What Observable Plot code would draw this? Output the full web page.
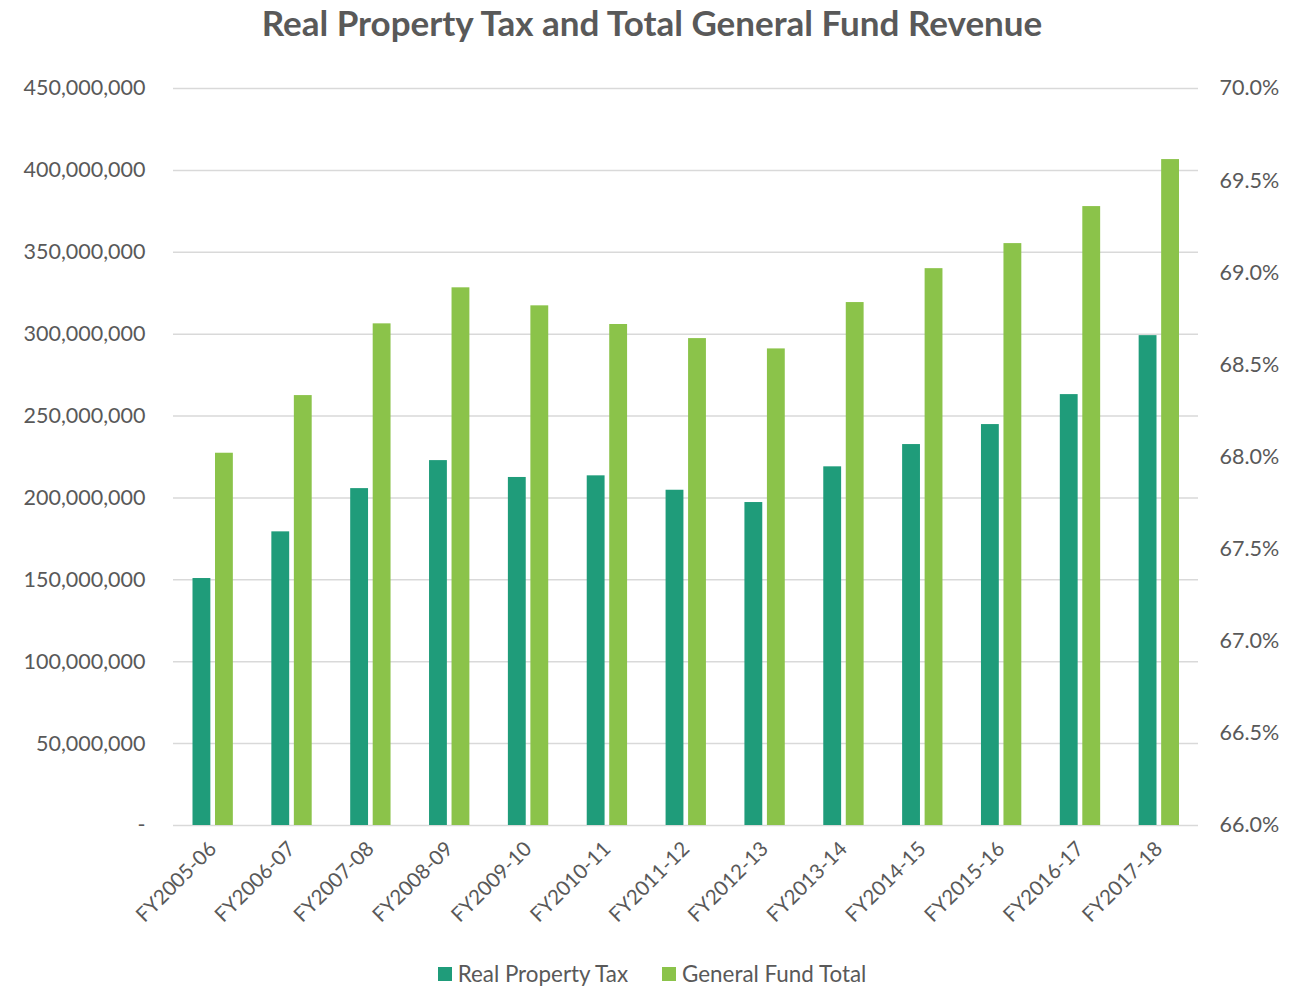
<!DOCTYPE html>
<html>
<head>
<meta charset="utf-8">
<script src="https://cdn.jsdelivr.net/npm/d3@7"></script>
<script src="https://cdn.jsdelivr.net/npm/@observablehq/plot@0.6"></script>
<style>
  html, body { margin: 0; padding: 0; background: #fff; }
  body { width: 1304px; height: 986px; overflow: hidden; font-family: Lato, "Open Sans", sans-serif; color: #595959; }
  #title { height: 50px; line-height: 44px; text-align: center; font-size: 35px; font-weight: bold; color: #595959; }
  #legend { margin-top: 15px; line-height: 26px; text-align: center; font-size: 22.4px; color: #595959; }
  #legend .item { display: inline-flex; align-items: center; margin: 0 17px; }
  #legend .sw { width: 14px; height: 14px; display: inline-block; margin-right: 6px; }
  svg { display: block; }
</style>
</head>
<body>
<div id="title">Real Property Tax and Total General Fund Revenue</div>
<div id="chart"></div>
<div id="legend"></div>
<script>
const categories = ["FY2005-06","FY2006-07","FY2007-08","FY2008-09","FY2009-10","FY2010-11","FY2011-12","FY2012-13","FY2013-14","FY2014-15","FY2015-16","FY2016-17","FY2017-18"];
const realPropertyTax = [150.8e6, 179.3e6, 205.7e6, 222.8e6, 212.5e6, 213.5e6, 204.7e6, 197.2e6, 219.0e6, 232.6e6, 244.8e6, 263.1e6, 299.1e6];
const generalFundTotal = [227.3e6, 262.5e6, 306.3e6, 328.3e6, 317.3e6, 305.9e6, 297.3e6, 291.0e6, 319.3e6, 340.0e6, 355.3e6, 377.9e6, 406.6e6];
const seriesNames = ["Real Property Tax", "General Fund Total"];
const seriesColors = ["#1f9c7a", "#8bc34a"];
const leftTicks = [0, 50e6, 100e6, 150e6, 200e6, 250e6, 300e6, 350e6, 400e6, 450e6];
const rightTicks = [0.66, 0.665, 0.67, 0.675, 0.68, 0.685, 0.69, 0.695, 0.70];
const leftDomain = [0, 450e6];
const rightDomain = [0.66, 0.70];

const tax = categories.map((c, i) => ({category: c, value: realPropertyTax[i]}));
const fund = categories.map((c, i) => ({category: c, value: generalFundTotal[i]}));

// map right-axis percentages onto the left (primary) y scale
const toLeft = p => leftDomain[0] + (p - rightDomain[0]) / (rightDomain[1] - rightDomain[0]) * (leftDomain[1] - leftDomain[0]);
const toRight = v => rightDomain[0] + (v - leftDomain[0]) / (leftDomain[1] - leftDomain[0]) * (rightDomain[1] - rightDomain[0]);
const fmtLeft = d3.format(",");
const fmtRight = d3.format(".1%");

const chart = Plot.plot({
  width: 1304,
  height: 895,
  marginLeft: 173,
  marginRight: 106,
  marginTop: 38,
  marginBottom: 120,
  style: {fontFamily: "Lato, 'Open Sans', sans-serif", fontSize: "21.5px", color: "#595959", background: "#fff"},
  x: {type: "band", domain: categories, padding: 0, round: false, label: null},
  y: {domain: leftDomain, label: null},
  marks: [
    Plot.gridY(leftTicks, {stroke: "#d9d9d9", strokeOpacity: 1, strokeWidth: 1.5}),
    Plot.barY(tax, {x: "category", y: "value", fill: seriesColors[0], insetLeft: 19.5, insetRight: 41.5}),
    Plot.barY(fund, {x: "category", y: "value", fill: seriesColors[1], insetLeft: 42, insetRight: 19}),
    Plot.axisY(leftTicks, {anchor: "left", tickSize: 0, tickPadding: 28, tickFormat: d => d === 0 ? "-" : fmtLeft(d), fill: "#595959", label: null}),
    Plot.axisY(rightTicks.map(toLeft), {anchor: "right", tickSize: 0, tickPadding: 21, tickFormat: d => fmtRight(toRight(d)), fill: "#595959", label: null}),
    Plot.axisX({anchor: "bottom", tickSize: 0, tickPadding: 20, tickRotate: -45, fill: "#595959", fontSize: "20.5px", label: null})
  ]
});
document.getElementById("chart").appendChild(chart);

const legend = document.getElementById("legend");
seriesNames.forEach((name, i) => {
  const item = document.createElement("span");
  item.className = "item";
  const sw = document.createElement("span");
  sw.className = "sw";
  sw.style.background = seriesColors[i];
  item.appendChild(sw);
  item.appendChild(document.createTextNode(name));
  legend.appendChild(item);
});
</script>
</body>
</html>
